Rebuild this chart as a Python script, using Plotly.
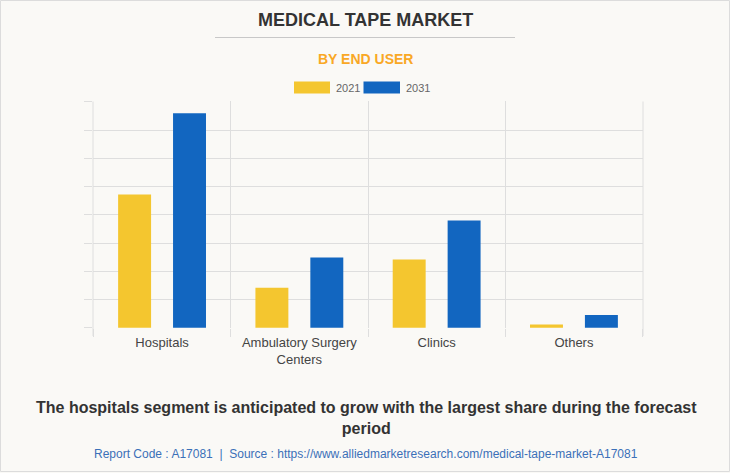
import plotly.graph_objects as go

categories = ["Hospitals", "Ambulatory Surgery<br>Centers", "Clinics", "Others"]
values_2021 = [4.72, 1.42, 2.42, 0.11]
values_2031 = [7.60, 2.49, 3.80, 0.45]
series_names = ["2021", "2031"]

YELLOW = "#F4C62F"
BLUE = "#1266C0"
GRID = "#dedede"
BG = "#faf9f6"
FONT = "Arial, Liberation Sans, sans-serif"

W, H = 730, 473
ML, MR, MT, MB = 93, 87, 101, 145
PW = W - ML - MR
PH = H - MT - MB


def px(x):
    return (x - ML) / PW


def py(y):
    return (H - MB - y) / PH


fig = go.Figure()
fig.add_trace(go.Bar(x=categories, y=values_2021, name=series_names[0],
                     marker=dict(color=YELLOW, line=dict(width=0)), showlegend=False))
fig.add_trace(go.Bar(x=categories, y=values_2031, name=series_names[1],
                     marker=dict(color=BLUE, line=dict(width=0)), showlegend=False))

shapes = [
    # outer border
    dict(type="rect", xref="paper", yref="paper", x0=px(0.5), x1=px(729.5), y0=py(471.5), y1=py(0.5),
         line=dict(color="#dcdcdc", width=1), fillcolor="rgba(0,0,0,0)", layer="below"),
    # plot frame verticals (category boundaries at the edges)
    dict(type="line", xref="paper", yref="paper", x0=0, x1=0, y0=py(336), y1=py(101.5),
         line=dict(color=GRID, width=1), layer="below"),
    dict(type="line", xref="paper", yref="paper", x0=1, x1=1, y0=py(336), y1=py(101.5),
         line=dict(color=GRID, width=1), layer="below"),
    # title underline
    dict(type="line", xref="paper", yref="paper", x0=px(215), x1=px(515), y0=py(37.5), y1=py(37.5),
         line=dict(color="#c8c8c8", width=1)),
    # legend swatches
    dict(type="rect", xref="paper", yref="paper", x0=px(294), x1=px(330), y0=py(93.5), y1=py(81.5),
         fillcolor=YELLOW, line=dict(width=0)),
    dict(type="rect", xref="paper", yref="paper", x0=px(363.5), x1=px(400), y0=py(93.5), y1=py(81.5),
         fillcolor=BLUE, line=dict(width=0)),
]

annotations = [
    dict(text="<b>MEDICAL TAPE MARKET</b>", x=px(365.5), y=py(20), xref="paper", yref="paper",
         showarrow=False, xanchor="center", yanchor="middle",
         font=dict(family=FONT, size=18, color="#333333")),
    dict(text="<b>BY END USER</b>", x=px(365), y=py(59), xref="paper", yref="paper",
         showarrow=False, xanchor="center", yanchor="middle",
         font=dict(family=FONT, size=14, color="#F9A825")),
    dict(text=series_names[0], x=px(334), y=py(87.5), xref="paper", yref="paper",
         showarrow=False, xanchor="left", yanchor="middle",
         font=dict(family=FONT, size=11, color="#666666")),
    dict(text=series_names[1], x=px(403.5), y=py(87.5), xref="paper", yref="paper",
         showarrow=False, xanchor="left", yanchor="middle",
         font=dict(family=FONT, size=11, color="#666666")),
    dict(text="<b>The hospitals segment is anticipated to grow with the largest share during the forecast<br>period</b>",
         x=px(366), y=py(418), xref="paper", yref="paper", showarrow=False,
         xanchor="center", yanchor="middle",
         font=dict(family=FONT, size=16, color="#333333")),
    dict(text="Report Code : A17081  |  Source : https://www.alliedmarketresearch.com/medical-tape-market-A17081",
         x=px(365.5), y=py(453.5), xref="paper", yref="paper", showarrow=False,
         xanchor="center", yanchor="middle",
         font=dict(family=FONT, size=12, color="#3b70b8")),
]

fig.update_layout(
    width=W, height=H,
    margin=dict(l=ML, r=MR, t=MT, b=MB, pad=0),
    paper_bgcolor=BG, plot_bgcolor=BG,
    barmode="group", bargap=0.2, bargroupgap=0.4,
    showlegend=False,
    shapes=shapes, annotations=annotations,
    font=dict(family=FONT, size=13, color="#444444"),
)
fig.update_xaxes(
    type="category", range=[-0.503, 3.503], tickson="boundaries", showgrid=True, gridcolor=GRID, gridwidth=1,
    ticks="outside", ticklen=8, tickcolor=GRID, showline=False, zeroline=False,
    ticklabelstandoff=5,
    tickfont=dict(family=FONT, size=13, color="#444444"),
)
fig.update_yaxes(
    range=[-0.01, 8.03], dtick=1, showgrid=True, gridcolor=GRID, gridwidth=1,
    ticks="outside", ticklen=8, tickcolor=GRID, showticklabels=False,
    zeroline=False, showline=False,
)

fig.write_html("out.html", config={"displayModeBar": False},
               post_script="document.body.style.margin='0';document.body.style.padding='0';")
